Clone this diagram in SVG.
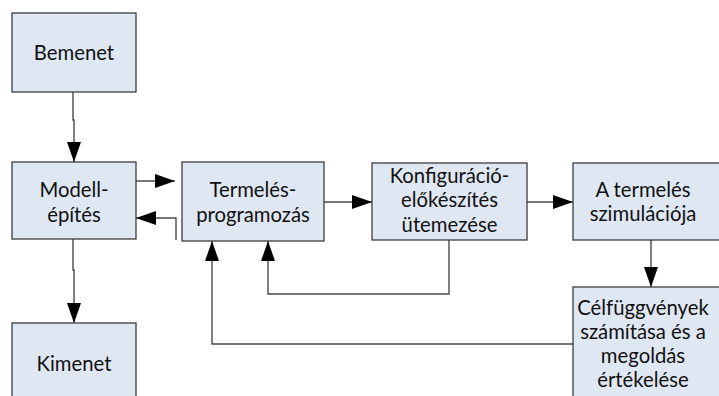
<svg xmlns="http://www.w3.org/2000/svg" width="719" height="396" viewBox="0 0 719 396">
  <style>
    .box { fill: #dfe7f3; stroke: #3c3c3c; stroke-width: 1.3; }
    .lbl { font-family: Lato, "Liberation Sans", sans-serif; font-size: 20.3px; fill: #111; text-anchor: middle; }
    .wire { fill: none; stroke: #4a4a4a; stroke-width: 1.4; marker-end: url(#tip); }
  </style>
  <defs>
    <marker id="tip" markerUnits="userSpaceOnUse" markerWidth="21" markerHeight="15" refX="20" refY="7" orient="auto">
      <path d="M0,0 L20,7 L0,14 Z" fill="#000"/>
    </marker>
  </defs>
  <rect width="719" height="396" fill="#fff"/>

  <g id="connectors">
    <path class="wire" d="M73,92 V120 H74 V162"/>
    <path class="wire" d="M73,239 V270 H74 V323"/>
    <path class="wire" d="M136,181 H175"/>
    <path class="wire" d="M176,240 V218 H136"/>
    <path class="wire" d="M324,202 H372"/>
    <path class="wire" d="M527,202 H573"/>
    <path class="wire" d="M651,240 V287"/>
    <path class="wire" d="M449,240 V294 H268 V241"/>
    <path class="wire" d="M573,344 H212 V241"/>
  </g>

  <g id="bemenet">
    <rect class="box" x="12" y="13" width="124" height="79"/>
    <text class="lbl" x="74" y="60">Bemenet</text>
  </g>
  <g id="modellepites">
    <rect class="box" x="12" y="162" width="124" height="77"/>
    <text class="lbl" x="74" y="197">Modell-</text>
    <text class="lbl" x="74" y="222">építés</text>
  </g>
  <g id="kimenet">
    <rect class="box" x="12" y="323" width="124" height="90"/>
    <text class="lbl" x="74" y="371">Kimenet</text>
  </g>
  <g id="termelesprogramozas">
    <rect class="box" x="182" y="162" width="142" height="79"/>
    <text class="lbl" x="253" y="197">Termelés-</text>
    <text class="lbl" x="253" y="222">programozás</text>
  </g>
  <g id="konfiguracio">
    <rect class="box" x="372" y="163" width="155" height="77"/>
    <text class="lbl" x="449.5" y="183">Konfiguráció-</text>
    <text class="lbl" x="449.5" y="207">előkészítés</text>
    <text class="lbl" x="449.5" y="232">ütemezése</text>
  </g>
  <g id="szimulacio">
    <rect class="box" x="573" y="163" width="160" height="77"/>
    <text class="lbl" x="643" y="197">A termelés</text>
    <text class="lbl" x="643" y="221">szimulációja</text>
  </g>
  <g id="celfuggvenyek">
    <rect class="box" x="573" y="287" width="160" height="130"/>
    <text class="lbl" x="643" y="315">Célfüggvények</text>
    <text class="lbl" x="643" y="339">számítása és a</text>
    <text class="lbl" x="643" y="363">megoldás</text>
    <text class="lbl" x="643" y="387">értékelése</text>
  </g>
</svg>
